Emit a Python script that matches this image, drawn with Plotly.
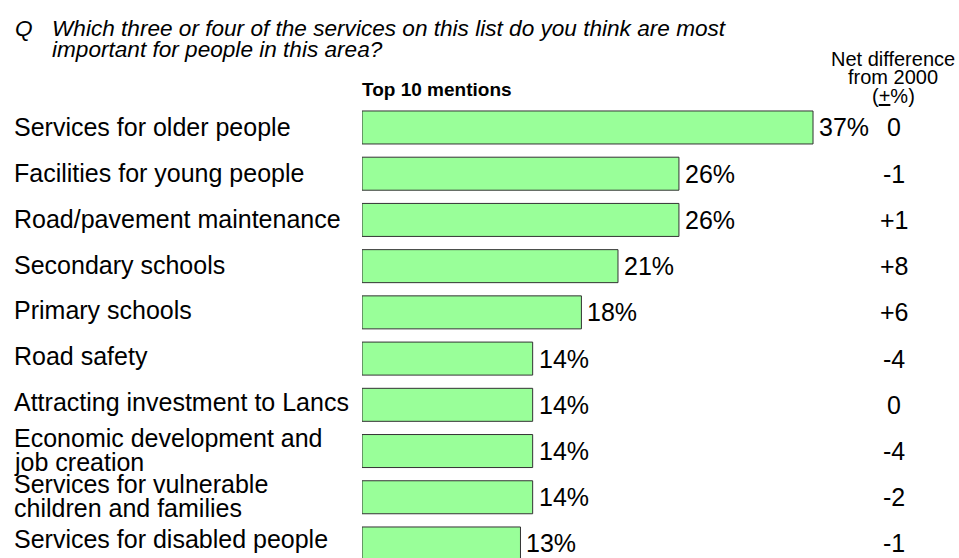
import plotly.graph_objects as go

# Survey results: top 10 mentioned services
services = [
    "Services for older people",
    "Facilities for young people",
    "Road/pavement maintenance",
    "Secondary schools",
    "Primary schools",
    "Road safety",
    "Attracting investment to Lancs",
    "Economic development and<br>job creation",
    "Services for vulnerable<br>children and families",
    "Services for disabled people",
]
mention_pct = [37, 26, 26, 21, 18, 14, 14, 14, 14, 13]
net_change = ["0", "-1", "+1", "+8", "+6", "-4", "0", "-4", "-2", "-1"]

W, H = 959, 558
FONT = "Liberation Sans, Arial, sans-serif"
BLACK = "#000000"

fig = go.Figure()

fig.add_trace(go.Bar(
    x=mention_pct,
    y=services,
    orientation="h",
    width=0.714,
    marker=dict(color="#99FF99", line=dict(color="#333333", width=1)),
    hoverinfo="x+y",
))

annotations = []

# Value labels just past the bar ends
for name, v in zip(services, mention_pct):
    annotations.append(dict(
        x=v, y=name, xref="x", yref="y", text=f"{v}%",
        xanchor="left", yanchor="middle", xshift=4, showarrow=False,
        font=dict(family=FONT, size=25, color=BLACK),
    ))

# Category labels on the left (multi-line labels drawn line by line,
# label rows run on a slightly tighter pitch than the bars)
LINE = 24
for i, name in enumerate(services):
    lines = name.split("<br>")
    n = len(lines)
    for k, line in enumerate(lines):
        shift = 0.55 * i if n == 1 else 1.5
        annotations.append(dict(
            x=12 / W, y=name, xref="paper", yref="y", text=line,
            xanchor="left", yanchor="middle", showarrow=False,
            yshift=shift + (n - 1) * LINE / 2 - k * LINE,
            font=dict(family=FONT, size=25, color=BLACK),
        ))

# Net difference column
for name, d in zip(services, net_change):
    annotations.append(dict(
        x=894 / W, y=name, xref="paper", yref="y", text=d,
        xanchor="center", yanchor="middle", showarrow=False,
        font=dict(family=FONT, size=25, color=BLACK),
    ))

# Question text
TITLE_FONT = dict(family=FONT, size=22.6, color=BLACK, style="italic")
annotations += [
    dict(x=13 / W, y=1 - 29 / H, xref="paper", yref="paper", text="Q",
         xanchor="left", yanchor="middle", showarrow=False, font=TITLE_FONT),
    dict(x=50 / W, y=1 - 29 / H, xref="paper", yref="paper",
         text="Which three or four of the services on this list do you think are most",
         xanchor="left", yanchor="middle", showarrow=False, font=TITLE_FONT),
    dict(x=50 / W, y=1 - 50 / H, xref="paper", yref="paper",
         text="important for people in this area?",
         xanchor="left", yanchor="middle", showarrow=False, font=TITLE_FONT),
    dict(x=437 / W, y=1 - 90 / H, xref="paper", yref="paper",
         text="<b>Top 10 mentions</b>",
         xanchor="center", yanchor="middle", showarrow=False,
         font=dict(family=FONT, size=19, color=BLACK)),
]

# Column header for net difference
for txt, yc in [("Net difference", 58.5), ("from 2000", 77.5), ("(<u>+</u>%)", 96)]:
    annotations.append(dict(
        x=893 / W, y=1 - yc / H, xref="paper", yref="paper", text=txt,
        xanchor="center", yanchor="middle", showarrow=False,
        font=dict(family=FONT, size=20, color=BLACK),
    ))

px_per_pct = 12.19
fig.update_layout(
    width=W, height=H,
    margin=dict(l=0, r=0, t=0, b=0),
    paper_bgcolor="white", plot_bgcolor="white",
    showlegend=False,
    xaxis=dict(domain=[362 / W, 1], range=[0, (W - 362) / px_per_pct],
               visible=False, fixedrange=True),
    yaxis=dict(type="category", range=[9.314, -2.758], visible=False,
               fixedrange=True),
    annotations=annotations,
)

fig.write_html("out.html")
